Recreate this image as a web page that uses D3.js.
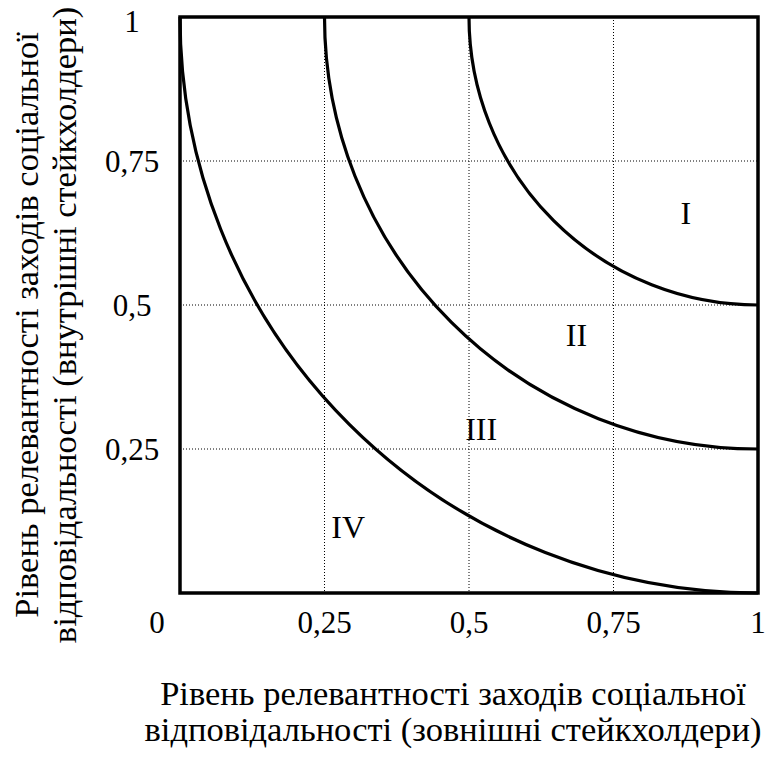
<!DOCTYPE html>
<html>
<head>
<meta charset="utf-8">
<script src="https://cdn.jsdelivr.net/npm/d3@7"></script>
<style>
  body { margin: 0; background: #fff; }
  svg text { font-family: "Liberation Serif", "DejaVu Serif", serif; fill: #000; }
</style>
</head>
<body>
<div id="chart"></div>
<script>
// tick values on both axes
var xTicks = [0.25, 0.5, 0.75, 1];
var yTicks = [0.25, 0.5, 0.75, 1];
var gridVals = [0.25, 0.5, 0.75];
// boundary curves: quarter circles around the (1,1) corner
var curveRadii = [0.5, 0.75, 1];
// zone labels and their positions
var zoneNames = ["I", "II", "III", "IV"];
var zoneX = [0.875, 0.686, 0.521, 0.291];
var zoneY = [0.66, 0.448, 0.285, 0.115];

var xTitle = ["Рівень релевантності заходів соціальної", "відповідальності (зовнішні стейкхолдери)"];
var yTitle = ["Рівень релевантності заходів соціальної", "відповідальності (внутрішні стейкхолдери)"];

function main() {
    var W = 766, H = 757;
    var left = 180, right = 758, top = 17, bottom = 593;

    var svg = d3.select("#chart").append("svg")
        .attr("width", W).attr("height", H);

    var x = d3.scaleLinear().domain([0, 1]).range([left, right]);
    var y = d3.scaleLinear().domain([0, 1]).range([bottom, top]);

    // dotted grid
    svg.selectAll(".vgrid").data(gridVals).enter().append("line")
        .attr("x1", d => x(d)).attr("x2", d => x(d))
        .attr("y1", top).attr("y2", bottom)
        .attr("stroke", "#000").attr("stroke-width", 1)
        .attr("stroke-dasharray", "1,2");
    svg.selectAll(".hgrid").data(gridVals).enter().append("line")
        .attr("y1", d => y(d)).attr("y2", d => y(d))
        .attr("x1", left).attr("x2", right)
        .attr("stroke", "#000").attr("stroke-width", 1)
        .attr("stroke-dasharray", "1,2");

    // curves
    svg.selectAll(".curve").data(curveRadii).enter().append("path")
        .attr("d", function(r) {
            var rx = x(1) - x(1 - r), ry = y(1 - r) - y(1);
            return "M" + x(1 - r) + "," + y(1) +
                " A" + rx + "," + ry + " 0 0 0 " + x(1) + "," + y(1 - r);
        })
        .attr("fill", "none").attr("stroke", "#000").attr("stroke-width", 3.2);

    // frame
    svg.append("rect")
        .attr("x", left).attr("y", top)
        .attr("width", right - left).attr("height", bottom - top)
        .attr("fill", "none").attr("stroke", "#000").attr("stroke-width", 3.5);

    // tick labels
    svg.selectAll(".xt").data(xTicks).enter().append("text")
        .attr("x", d => x(d)).attr("y", 633)
        .attr("text-anchor", "middle").attr("font-size", 31)
        .text(d => String(d).replace(".", ","));
    svg.append("text").attr("x", x(0) - 23).attr("y", 633)
        .attr("text-anchor", "middle").attr("font-size", 31).text("0");
    svg.selectAll(".yt").data(yTicks).enter().append("text")
        .attr("x", 132).attr("y", d => y(d) + (d === 1 ? 4 : 0))
        .attr("dy", "0.34em")
        .attr("text-anchor", "middle").attr("font-size", 31)
        .text(d => String(d).replace(".", ","));

    // zone labels
    svg.selectAll(".zone").data(zoneNames).enter().append("text")
        .attr("x", (d, i) => x(zoneX[i])).attr("y", (d, i) => y(zoneY[i]))
        .attr("dy", "0.34em")
        .attr("text-anchor", "middle").attr("font-size", 32)
        .text(d => d);

    // axis titles
    svg.selectAll(".xtitle").data(xTitle).enter().append("text")
        .attr("x", 453).attr("y", (d, i) => 705 + i * 36)
        .attr("text-anchor", "middle").attr("font-size", 34.5)
        .text(d => d);
    svg.selectAll(".ytitle").data(yTitle).enter().append("text")
        .attr("transform", (d, i) => "translate(" + (38 + i * 38) + ",325) rotate(-90)")
        .attr("text-anchor", "middle").attr("font-size", 34.5)
        .text(d => d);
}
main();
</script>
</body>
</html>
